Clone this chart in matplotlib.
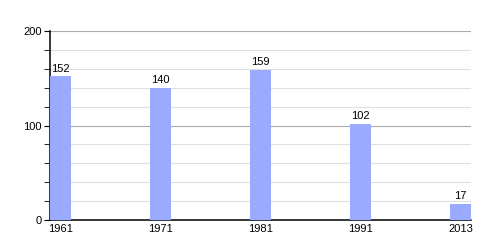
import matplotlib.pyplot as plt
from matplotlib.ticker import MultipleLocator

plt.rcParams['font.family'] = ['Liberation Sans', 'DejaVu Sans']

years = ["1961", "1971", "1981", "1991", "2013"]
population = [152, 140, 159, 102, 17]

fig = plt.figure(figsize=(5, 2.5), dpi=100)
ax = fig.add_axes([0.1, 0.12, 0.842, 0.756])

x = list(range(len(years)))
bw = 0.21
ax.bar(x, population, width=bw, align='edge', color='#9aabff', zorder=3)

for xi, v in zip(x, population):
    ax.text(xi + bw / 2, v + 3, str(v), ha='center', va='bottom', fontsize=8)

ax.set_xlim(0, len(years) - 1 + bw)
ax.set_ylim(0, 200)
ax.set_xticks([xi + bw / 2 for xi in x])
ax.set_xticklabels(years)
ax.yaxis.set_major_locator(MultipleLocator(100))
ax.yaxis.set_minor_locator(MultipleLocator(20))

ax.grid(axis='y', which='major', color='#aaaaaa', linewidth=0.8, zorder=0)
ax.grid(axis='y', which='minor', color='#e0e0e0', linewidth=0.8, zorder=0)

ax.tick_params(axis='x', length=0, labelsize=8, pad=3)
ax.tick_params(axis='y', which='major', length=4, labelsize=8, pad=2)
ax.tick_params(axis='y', which='minor', length=4)

for s in ['top', 'right']:
    ax.spines[s].set_visible(False)
ax.spines['left'].set_linewidth(1.1)
ax.spines['bottom'].set_linewidth(1.1)

fig.savefig('out.png', dpi=100)
